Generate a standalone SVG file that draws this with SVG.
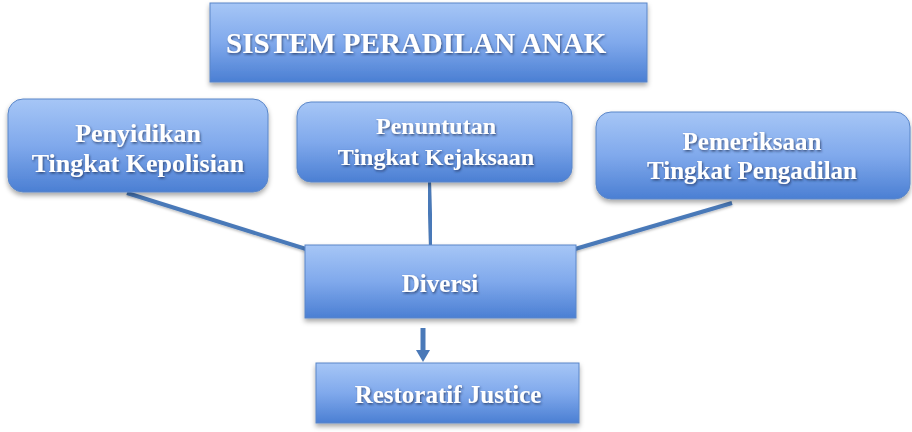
<svg xmlns="http://www.w3.org/2000/svg" width="912" height="432" viewBox="0 0 912 432">
<defs>
<linearGradient id="g" x1="0" y1="0" x2="0" y2="1">
<stop offset="0" stop-color="#a6c6f6"/>
<stop offset="0.5" stop-color="#80a9ec"/>
<stop offset="1" stop-color="#4b7fd3"/>
</linearGradient>
<filter id="bs" x="-10%" y="-10%" width="120%" height="140%">
<feDropShadow dx="0" dy="3" stdDeviation="2.5" flood-color="#000" flood-opacity="0.35"/>
</filter>
<filter id="ts" x="-10%" y="-20%" width="120%" height="140%">
<feDropShadow dx="1" dy="1.5" stdDeviation="1" flood-color="#1a2a50" flood-opacity="0.7"/>
</filter>
<filter id="ls" x="-10%" y="-10%" width="120%" height="130%">
<feDropShadow dx="0" dy="1.5" stdDeviation="1" flood-color="#000" flood-opacity="0.25"/>
</filter>
</defs>
<style>
.box{fill:url(#g);stroke:#5a86c8;stroke-width:1;filter:url(#bs)}
.t{font-family:"Liberation Serif","Times New Roman",serif;font-weight:bold;fill:#ffffff;filter:url(#ts)}
.c{text-anchor:middle}
.ln{stroke:#4a79b8;stroke-width:4;fill:none;filter:url(#ls)}
</style>
<rect width="912" height="432" fill="#ffffff"/>
<g id="connectors">
<line class="ln" x1="127" y1="193" x2="306" y2="249"/>
<line class="ln" x1="429" y1="182" x2="431" y2="246"/>
<line class="ln" x1="732" y1="203" x2="575" y2="249"/>
<line x1="423" y1="328" x2="423" y2="351" stroke="#4a79b8" stroke-width="5"/>
<polygon points="416,350 430,350 423,362" fill="#4a79b8"/>
</g>
<g id="title">
<rect class="box" x="210" y="3" width="437" height="79"/>
<text class="t" x="226" y="53" font-size="29">SISTEM PERADILAN ANAK</text>
</g>
<g id="penyidikan">
<rect class="box" x="8" y="99" width="260" height="93" rx="15"/>
<text class="t c" font-size="26"><tspan x="138" y="142">Penyidikan</tspan><tspan x="138" y="172">Tingkat Kepolisian</tspan></text>
</g>
<g id="penuntutan">
<rect class="box" x="297" y="102" width="275" height="80" rx="14"/>
<text class="t c" font-size="24"><tspan x="436" y="134">Penuntutan</tspan><tspan x="436" y="165">Tingkat Kejaksaan</tspan></text>
</g>
<g id="pemeriksaan">
<rect class="box" x="596" y="112" width="314" height="87" rx="15"/>
<text class="t c" font-size="25"><tspan x="752" y="150">Pemeriksaan</tspan><tspan x="752" y="179">Tingkat Pengadilan</tspan></text>
</g>
<g id="diversi">
<rect class="box" x="305" y="245" width="271" height="73"/>
<text class="t c" x="440" y="292" font-size="25">Diversi</text>
</g>
<g id="restoratif">
<rect class="box" x="316" y="363" width="263" height="60"/>
<text class="t c" x="448" y="403" font-size="25">Restoratif Justice</text>
</g>
</svg>
